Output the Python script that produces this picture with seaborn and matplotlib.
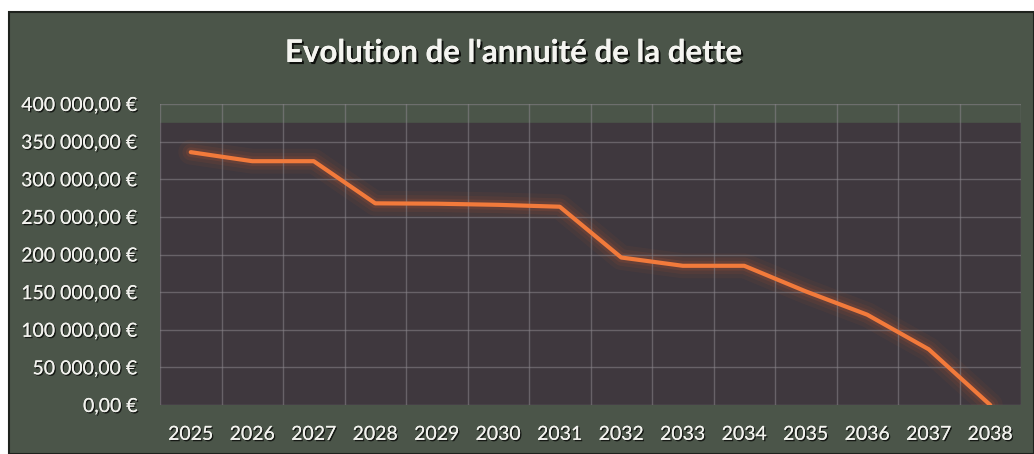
import matplotlib
matplotlib.use("Agg")
import matplotlib.pyplot as plt
import matplotlib.patheffects as pe
from matplotlib.patches import Rectangle
import seaborn as sns
import pandas as pd
import numpy as np

years = [2025, 2026, 2027, 2028, 2029, 2030, 2031, 2032, 2033, 2034, 2035, 2036, 2037, 2038]
annuite = [336000, 324000, 324000, 268000, 267500, 266000, 263500, 196000, 185000, 185000, 151000, 120000, 74000, 0]
y_ticks = [0, 50000, 100000, 150000, 200000, 250000, 300000, 350000, 400000]
y_tick_labels = ["0,00 €", "50 000,00 €", "100 000,00 €", "150 000,00 €", "200 000,00 €",
                 "250 000,00 €", "300 000,00 €", "350 000,00 €", "400 000,00 €"]
title = "Evolution de l'annuité de la dette"

df = pd.DataFrame({"annee": years, "annuite": annuite})

sns.set_theme(style="white")
plt.rcParams['font.family'] = ['Lato', 'DejaVu Sans']

BG = "#4b5549"
PLOT = "#3f383e"
ORANGE = "#f27a3b"
GRID = "#8a868c"

fig = plt.figure(figsize=(10.34, 4.54), dpi=100, facecolor="white")
fig.patches.append(Rectangle((9/1034, 0), 1 - 9/1034, 1 - 12/454, transform=fig.transFigure,
                             facecolor=BG, edgecolor="#1e221d", linewidth=1.5, zorder=-10))

ax = fig.add_axes([160/1034, 1 - 405/454, (1021 - 160)/1034, (405 - 104)/454])
ax.set_zorder(1)
ax.set_facecolor(BG)
ax.axhspan(0, 375000, color=PLOT, zorder=0)

# glow
for lw, a in [(18, 0.05), (12, 0.08), (7, 0.12)]:
    ax.plot(df["annee"], df["annuite"], color="#e8602a", lw=lw, alpha=a, solid_capstyle="round",
            solid_joinstyle="round", zorder=2)
sns.lineplot(data=df, x="annee", y="annuite", ax=ax, color=ORANGE, lw=3.0, zorder=3)

ax.set_xlim(years[0] - 0.5, years[-1] + 0.5)
ax.set_ylim(0, 400000)
ax.set_xticks(years)
ax.set_xticklabels([str(y) for y in years])
ax.set_xticks([y - 0.5 for y in years] + [years[-1] + 0.5], minor=True)
ax.set_yticks(y_ticks)
ax.set_yticklabels(y_tick_labels)

ax.grid(False)
ax.yaxis.grid(True, which="major", color=GRID, lw=1, alpha=0.55, zorder=1)
ax.xaxis.grid(True, which="minor", color=GRID, lw=1, alpha=0.55, zorder=1)
ax.set_axisbelow(False)
for s in ax.spines.values():
    s.set_visible(False)
ax.tick_params(axis="both", which="both", length=0)
ax.tick_params(axis="y", pad=16)
ax.tick_params(axis="x", pad=15)
ax.set_xlabel("")
ax.set_ylabel("")

shadow = [pe.withSimplePatchShadow(offset=(1, -1), shadow_rgbFace="black", alpha=0.7), pe.Normal()]
for lab in ax.get_xticklabels() + ax.get_yticklabels():
    lab.set_color("#f2f2ee")
    lab.set_fontsize(14)
    lab.set_path_effects(shadow)

fig.text(514/1034, 1 - 53/454, title, ha="center", va="center", fontsize=22.5, fontweight="bold",
         color="#f4f4f0", path_effects=[pe.withSimplePatchShadow(offset=(1.5, -1.5), shadow_rgbFace="black", alpha=0.8), pe.Normal()])

fig.savefig("out.png", dpi=100, facecolor=fig.get_facecolor())
